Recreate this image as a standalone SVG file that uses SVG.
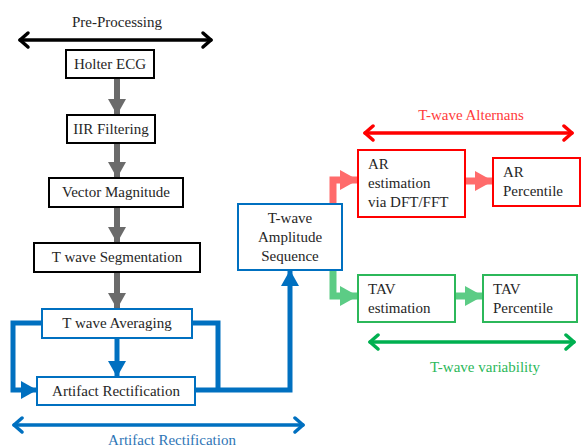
<svg xmlns="http://www.w3.org/2000/svg" width="583" height="448" viewBox="0 0 583 448">
<style>
text{font-size:15px;fill:#262626}
.c{text-anchor:middle}
.bk{fill:#fff;stroke:#000;stroke-width:2}
.bl{fill:#fff;stroke:#0070c0;stroke-width:2}
.rd{fill:#fff;stroke:#ff0000;stroke-width:2}
.gn{fill:#fff;stroke:#2cb85a;stroke-width:2}
.gray{stroke:#6b6b6b;stroke-width:6;fill:none}
.blue{stroke:#0070c0;stroke-width:5;fill:none}
.lred{stroke:#ff6b6b;stroke-width:7;fill:none}
.lgrn{stroke:#5ccc85;stroke-width:7;fill:none}
</style>
<defs>
<marker id="hg" markerUnits="userSpaceOnUse" markerWidth="18" markerHeight="18" viewBox="0 0 16 18" refX="15" refY="9" orient="auto"><path d="M0,0L16,9L0,18z" fill="#6b6b6b"/></marker>
<marker id="hb" markerUnits="userSpaceOnUse" markerWidth="18" markerHeight="18" viewBox="0 0 16 18" refX="15" refY="9" orient="auto"><path d="M0,0L16,9L0,18z" fill="#0070c0"/></marker>
<marker id="hr" markerUnits="userSpaceOnUse" markerWidth="20" markerHeight="20" viewBox="0 0 18 20" refX="17" refY="10" orient="auto"><path d="M0,0L18,10L0,20z" fill="#ff6b6b"/></marker>
<marker id="hn" markerUnits="userSpaceOnUse" markerWidth="20" markerHeight="20" viewBox="0 0 18 20" refX="17" refY="10" orient="auto"><path d="M0,0L18,10L0,20z" fill="#5ccc85"/></marker>
</defs>
<g font-family="'Liberation Serif', 'Times New Roman', serif">
<g id="connectors">
<line class="gray" x1="117" y1="78" x2="117" y2="114" marker-end="url(#hg)"/>
<line class="gray" x1="117" y1="143" x2="117" y2="177" marker-end="url(#hg)"/>
<line class="gray" x1="117" y1="207" x2="117" y2="242" marker-end="url(#hg)"/>
<line class="gray" x1="117" y1="272" x2="117" y2="308" marker-end="url(#hg)"/>
<line class="blue" x1="117" y1="338" x2="117" y2="376" marker-end="url(#hb)"/>
<path class="blue" d="M42,323H13V390H36" marker-end="url(#hb)"/>
<path class="blue" d="M192,323H218V390"/>
<path class="blue" d="M195,390H290V271" marker-end="url(#hb)"/>
<path class="lred" d="M333,204V180H357" marker-end="url(#hr)"/>
<line class="lred" x1="465" y1="181" x2="492" y2="181" marker-end="url(#hr)"/>
<path class="lgrn" d="M333,270V296H357" marker-end="url(#hn)"/>
<line class="lgrn" x1="455" y1="296" x2="482" y2="296" marker-end="url(#hn)"/>
</g>

<g id="range-preprocessing">
<text class="c" x="117" y="27">Pre-Processing</text>
<g stroke="#000" stroke-width="3.5" fill="none" stroke-linecap="round" stroke-linejoin="round">
<line x1="20" y1="40" x2="211" y2="40"/>
<path d="M28,33L20,40L28,47M203,33L211,40L203,47"/>
</g>
</g>

<g id="range-artifact">
<g stroke="#0070c0" stroke-width="3.5" fill="none" stroke-linecap="round" stroke-linejoin="round">
<line x1="14" y1="425" x2="303" y2="425"/>
<path d="M22,418L14,425L22,432M295,418L303,425L295,432"/>
</g>
<text class="c" x="172" y="445" style="fill:#2e75b6">Artifact Rectification</text>
</g>

<g id="range-alternans">
<text class="c" x="471" y="120" style="fill:#ff3b3b">T-wave Alternans</text>
<g stroke="#ff0000" stroke-width="3.5" fill="none" stroke-linecap="round" stroke-linejoin="round">
<line x1="365" y1="133" x2="572" y2="133"/>
<path d="M373,126L365,133L373,140M564,126L572,133L564,140"/>
</g>
</g>

<g id="range-variability">
<g stroke="#00b050" stroke-width="3.5" fill="none" stroke-linecap="round" stroke-linejoin="round">
<line x1="370" y1="342" x2="574" y2="342"/>
<path d="M378,335L370,342L378,349M566,335L574,342L566,349"/>
</g>
<text class="c" x="485" y="372" style="fill:#2cb85a">T-wave variability</text>
</g>

<g id="holter"><rect class="bk" x="66" y="50" width="88" height="28"/><text class="c" x="110" y="69">Holter ECG</text></g>
<g id="iir"><rect class="bk" x="67" y="115" width="88" height="28"/><text class="c" x="111" y="134">IIR Filtering</text></g>
<g id="vector"><rect class="bk" x="49" y="178" width="134" height="29"/><text class="c" x="116" y="197">Vector Magnitude</text></g>
<g id="segmentation"><rect class="bk" x="34" y="243" width="166" height="29"/><text class="c" x="117" y="262">T wave Segmentation</text></g>
<g id="averaging"><rect class="bl" x="42" y="309" width="150" height="29"/><text class="c" x="117" y="328">T wave Averaging</text></g>
<g id="rectification"><rect class="bl" x="37" y="377" width="158" height="28"/><text class="c" x="116" y="396">Artifact Rectification</text></g>
<g id="sequence"><rect class="bl" x="238" y="204" width="104" height="66"/>
<text class="c" x="290" y="223">T-wave</text><text class="c" x="290" y="242">Amplitude</text><text class="c" x="290" y="261">Sequence</text></g>
<g id="ar-est"><rect class="rd" x="358" y="150" width="107" height="67"/>
<text x="368" y="169">AR</text><text x="368" y="188">estimation</text><text x="368" y="207">via DFT/FFT</text></g>
<g id="ar-pct"><rect class="rd" x="493" y="158" width="87" height="48"/>
<text x="503" y="177">AR</text><text x="503" y="196">Percentile</text></g>
<g id="tav-est"><rect class="gn" x="358" y="275" width="97" height="47"/>
<text x="368" y="294">TAV</text><text x="368" y="313">estimation</text></g>
<g id="tav-pct"><rect class="gn" x="483" y="275" width="94" height="47"/>
<text x="493" y="294">TAV</text><text x="493" y="313">Percentile</text></g>
</g>
</svg>
